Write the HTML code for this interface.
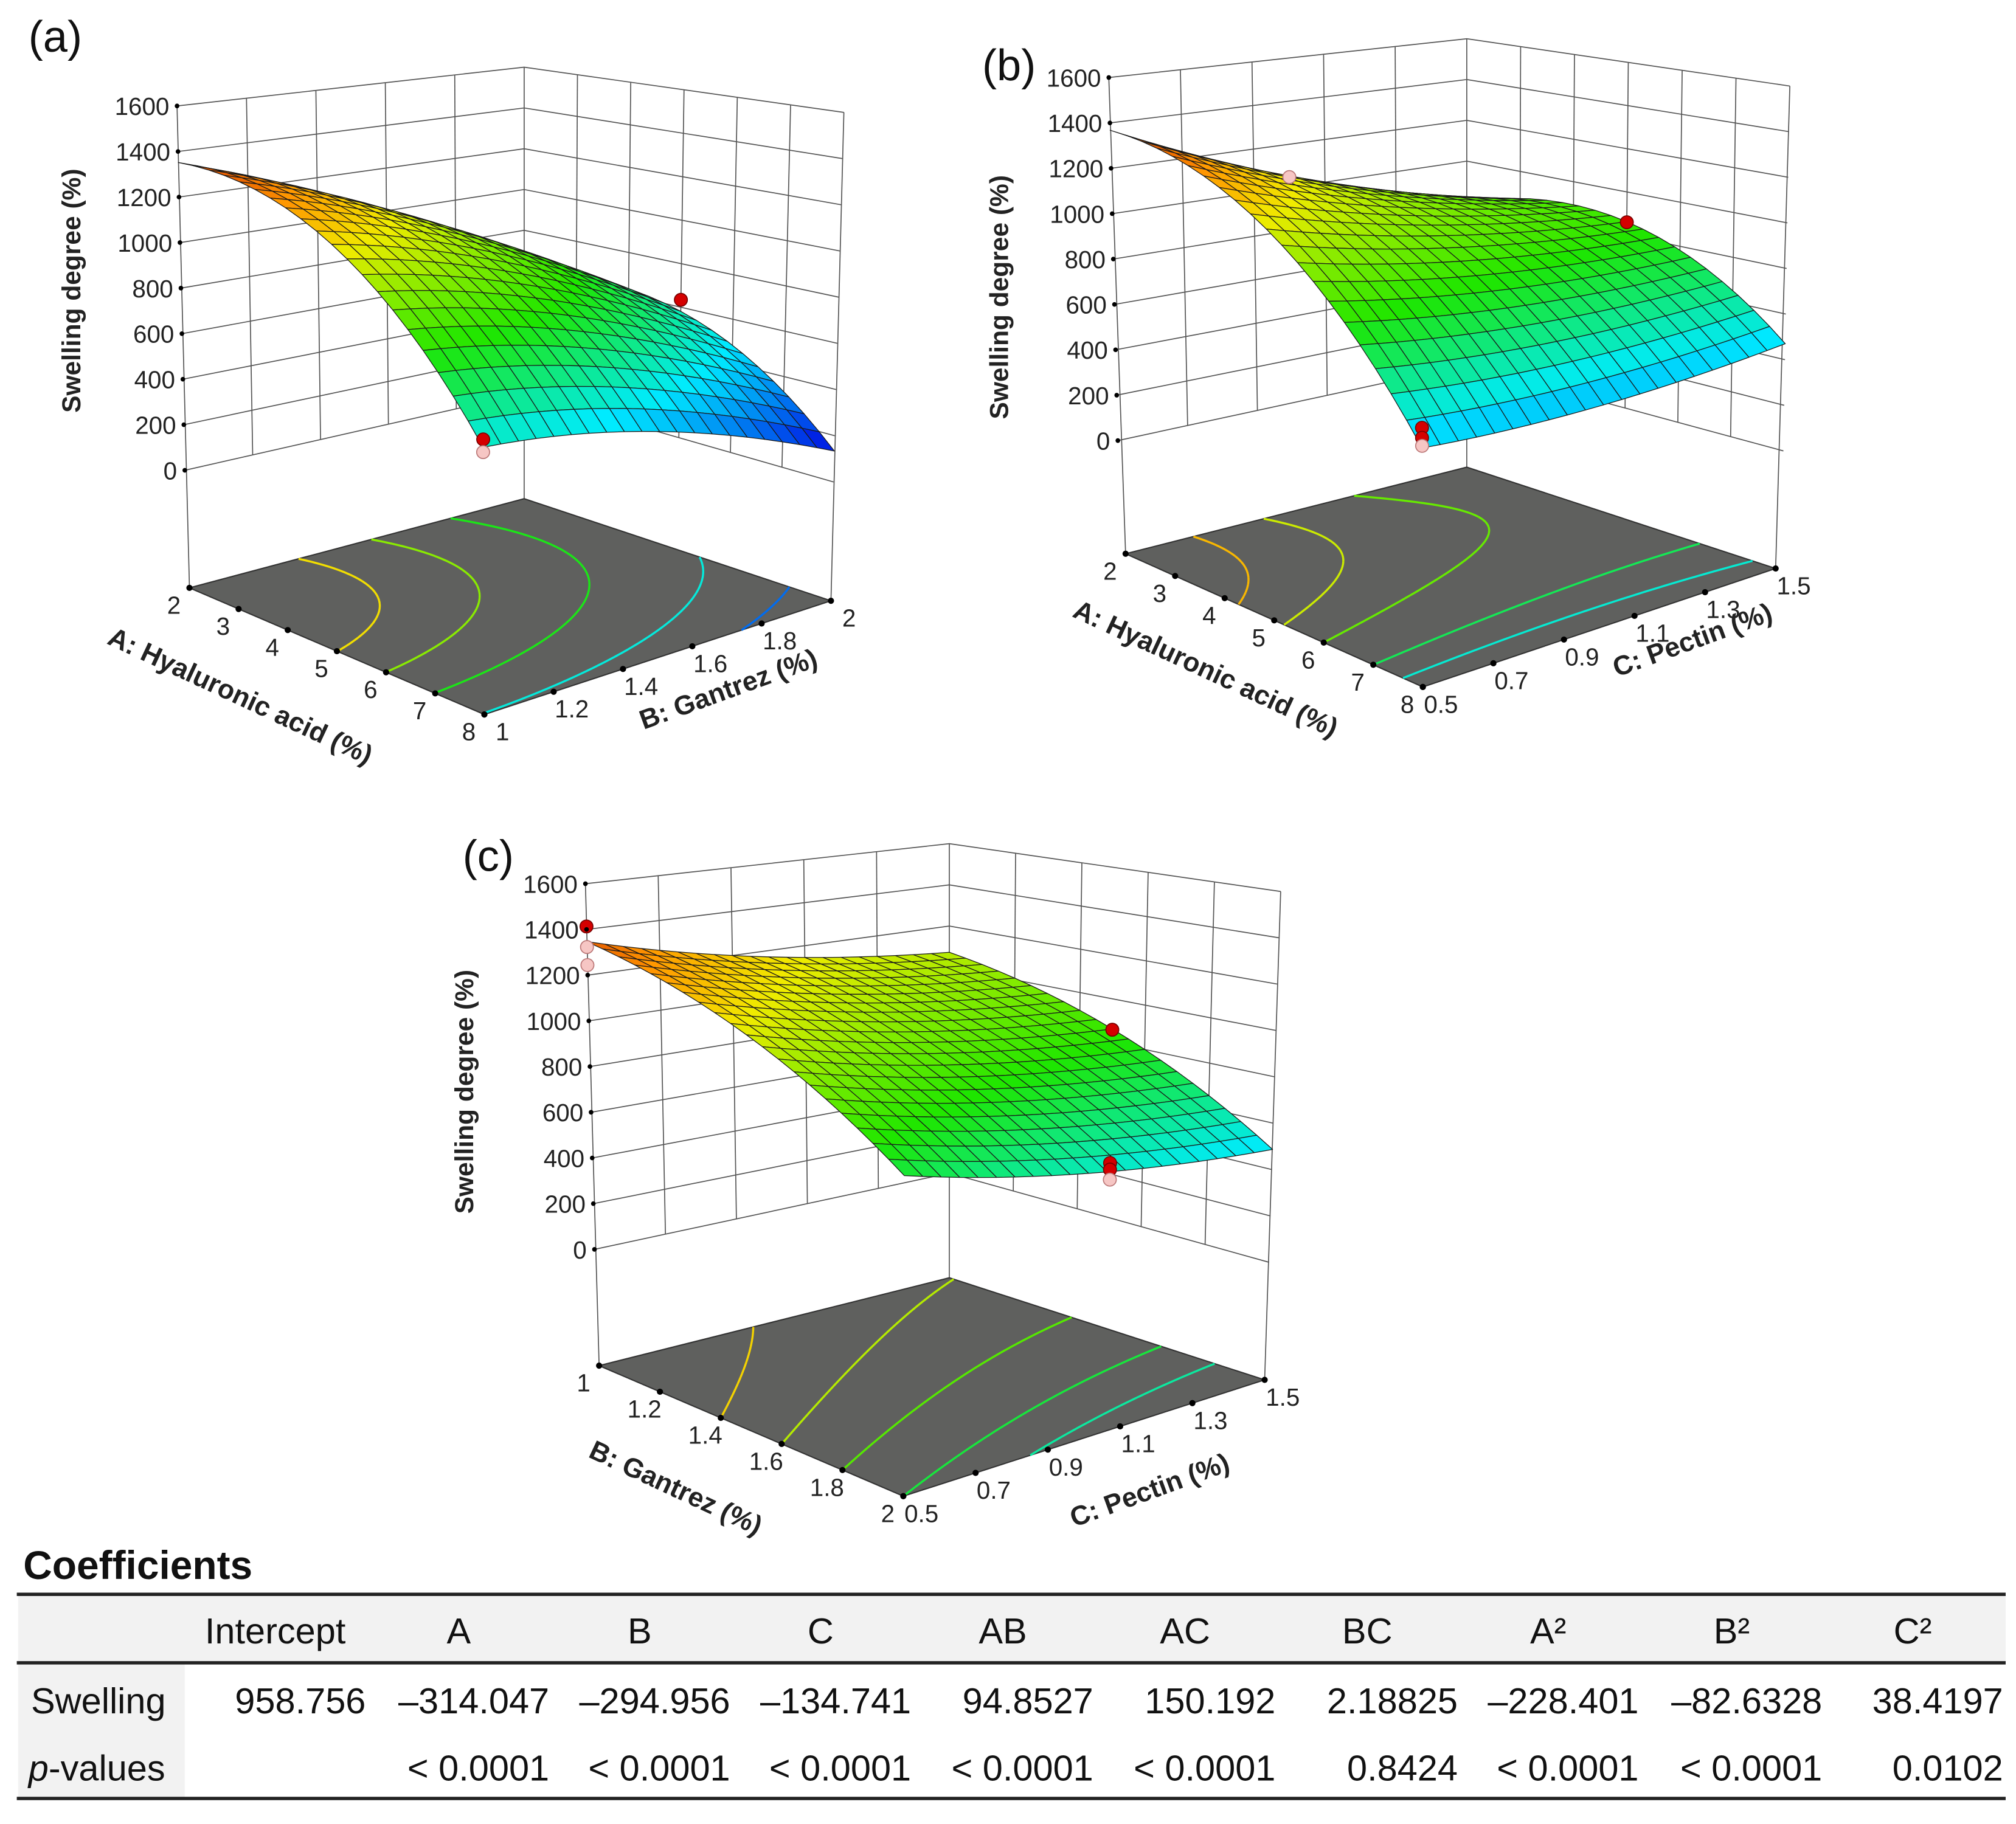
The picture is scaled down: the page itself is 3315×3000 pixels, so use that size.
<!DOCTYPE html>
<html><head><meta charset="utf-8"><style>
html,body{margin:0;padding:0;background:#fff;}
svg{display:block;font-family:"Liberation Sans",Arial,sans-serif;}
</style></head><body>
<svg id="fig" width="3315" height="3000" viewBox="0 0 1560 1411.76" xmlns="http://www.w3.org/2000/svg">
<rect x="0" y="0" width="1560" height="1412" fill="#fff"/>
</svg>
<script>
// ===== Data =====
const coefNames = ["Intercept","A","B","C","AB","AC","BC","A²","B²","C²"];
const swellingCoef = [958.756,-314.047,-294.956,-134.741,94.8527,150.192,2.18825,-228.401,-82.6328,38.4197];
const pValueLabels = ["","< 0.0001","< 0.0001","< 0.0001","< 0.0001","< 0.0001","0.8424","< 0.0001","< 0.0001","0.0102"];
const zTicks = [0,200,400,600,800,1000,1200,1400,1600];
const ticksA = [2,3,4,5,6,7,8];
const ticksB = [1,1.2,1.4,1.6,1.8,2];
const ticksC = [0.5,0.7,0.9,1.1,1.3,1.5];
const contourLevelsA = [300,545,800,1010,1170];
const contourLevelsB = [558,720,952,1100,1230];
const contourLevelsC = [624,752,924,1069,1188];
const pointsA_p = [1,1,0.5];
const pointsA_q = [0,0,1];
const pointsA_z = [565,515,634];
const pointsA_kind = ["red","pink","red"];
const pointsB_p = [1,1,1,0,0.5];
const pointsB_q = [0,0,0,0.5,1];
const pointsB_z = [520,480,448,1048,860];
const pointsB_kind = ["red","red","pink","pink","red"];
const pointsC_p = [0,0,0,0.5,0.5,0.5,0.5];
const pointsC_q = [0,0,0,1,1,1,1];
const pointsC_z = [1413,1323,1244,859,250,220,174];
const pointsC_kind = ["red","pink","pink","red","red","red","pink"];

// ===== helpers =====
const NS = "http://www.w3.org/2000/svg";
const svg = document.getElementById('fig');
function mk(tag, attrs, parent){
  const e = document.createElementNS(NS, tag);
  for (const k in attrs) e.setAttribute(k, attrs[k]);
  (parent||svg).appendChild(e);
  return e;
}
function model(a,b,c){
  const k = swellingCoef;
  return k[0]+k[1]*a+k[2]*b+k[3]*c+k[4]*a*b+k[5]*a*c+k[6]*b*c+k[7]*a*a+k[8]*b*b+k[9]*c*c;
}
const cstops = [[130,[0,0,225]],[500,[0,235,255]],[830,[30,230,0]],[1000,[130,235,0]],[1150,[240,235,0]],[1280,[255,150,0]],[1380,[215,55,0]]];
function cmap(z){
  if (z<=cstops[0][0]) return 'rgb('+cstops[0][1].join(',')+')';
  for (let i=1;i<cstops.length;i++){
    if (z<=cstops[i][0]){
      const t=(z-cstops[i-1][0])/(cstops[i][0]-cstops[i-1][0]);
      const a=cstops[i-1][1], b=cstops[i][1];
      return 'rgb('+[0,1,2].map(j=>Math.round(a[j]+(b[j]-a[j])*t)).join(',')+')';
    }
  }
  return 'rgb('+cstops[cstops.length-1][1].join(',')+')';
}
function fmtCoef(v){ return v<0 ? '\u2013'+String(Math.abs(v)) : String(v); }

// ===== plot configs (geometry) =====
const plots = [
 {id:'a', label:'(a)', labelXY:[22,40],
  L:[146.6,455], F:[374.8,553], R:[643,465], B:[405.6,386],
  oL0:[-3.6,-91], oL1:[-9.6,-373], oB0:[0,-81.5], oB1:[0,-334], oR0:[2,-92], oR1:[10,-378],
  ax1:ticksA, ax2:ticksB, coded:(p,q)=>model(2*p-1,2*q-1,0),
  levels:contourLevelsA, pp:pointsA_p, pq:pointsA_q, pz:pointsA_z, pk:pointsA_kind,
  t1:'A: Hyaluronic acid (%)', t1XY:[183,545], t2:'B: Gantrez (%)', t2XY:[566,540], ytXY:[62,225]},
 {id:'b', label:'(b)', labelXY:[760,62],
  L:[871,428.6], F:[1101,531.7], R:[1374,440], B:[1135,361.6],
  oL0:[-6,-87.6], oL1:[-13,-368.6], oB0:[0,-79], oB1:[0,-331.6], oR0:[6,-91], oR1:[11,-373.4],
  ax1:ticksA, ax2:ticksC, coded:(p,q)=>model(2*p-1,0,2*q-1),
  levels:contourLevelsB, pp:pointsB_p, pq:pointsB_q, pz:pointsB_z, pk:pointsB_kind,
  t1:'A: Hyaluronic acid (%)', t1XY:[930,524], t2:'C: Pectin (%)', t2XY:[1312,502], ytXY:[780,230]},
 {id:'c', label:'(c)', labelXY:[358,674],
  L:[463.6,1057], F:[699,1158], R:[978.6,1068], B:[734.6,989],
  oL0:[-3.6,-90], oL1:[-10.6,-373], oB0:[0,-81], oB1:[0,-336], oR0:[3.4,-91], oR1:[12.4,-378],
  ax1:ticksB, ax2:ticksC, coded:(p,q)=>model(0,2*p-1,2*q-1),
  levels:contourLevelsC, pp:pointsC_p, pq:pointsC_q, pz:pointsC_z, pk:pointsC_kind,
  t1:'B: Gantrez (%)', t2:'C: Pectin (%)', t1XY:[520,1158], t2XY:[892,1160], ytXY:[366,845]}
];

function bil(P,key,p,q){
  const L=P[key+'L'], B=P[key+'B'], R=P[key+'R'], F=P[key+'F'];
  return [0,1].map(i=>L[i]*(1-p)*(1-q)+F[i]*p*(1-q)+R[i]*p*q+B[i]*(1-p)*q);
}
function setup(P){
  P.fL=P.L; P.fF=P.F; P.fR=P.R; P.fB=P.B;
  P.z0L=P.oL0; P.z0B=P.oB0; P.z0R=P.oR0;
  P.z0F=[P.oL0[0]+P.oR0[0]-P.oB0[0], P.oL0[1]+P.oR0[1]-P.oB0[1]];
  P.z1L=P.oL1; P.z1B=P.oB1; P.z1R=P.oR1;
  P.z1F=[P.oL1[0]+P.oR1[0]-P.oB1[0], P.oL1[1]+P.oR1[1]-P.oB1[1]];
}
function floorPt(P,p,q){ return bil(P,'f',p,q); }
function proj(P,p,q,z){
  const f=bil(P,'f',p,q), a=bil(P,'z0',p,q), b=bil(P,'z1',p,q), t=z/1600;
  return [f[0]+a[0]+(b[0]-a[0])*t, f[1]+a[1]+(b[1]-a[1])*t];
}
const pt = a => a[0].toFixed(2)+','+a[1].toFixed(2);

plots.forEach(P=>{
  setup(P);
  const g = mk('g',{});
  
  
  const walls = mk('g',{stroke:'#555','stroke-width':0.8,fill:'none'},g);
  
  
  zTicks.forEach(z=>{
    mk('polyline',{points:[proj(P,0,0,z),proj(P,0,1,z),proj(P,1,1,z)].map(pt).join(' ')},walls);
  });
  const n2=P.ax2.length-1, n1=P.ax1.length-1;
  for(let i=1;i<n2;i++){ const q=i/n2; mk('line',{x1:proj(P,0,q,0)[0],y1:proj(P,0,q,0)[1],x2:proj(P,0,q,1600)[0],y2:proj(P,0,q,1600)[1]},walls); }
  for(let i=1;i<n1;i++){ const p=i/n1; mk('line',{x1:proj(P,p,1,0)[0],y1:proj(P,p,1,0)[1],x2:proj(P,p,1,1600)[0],y2:proj(P,p,1,1600)[1]},walls); }
  [[0,0],[0,1],[1,1]].forEach(([p,q])=>{
    const f=floorPt(P,p,q), t=proj(P,p,q,1600);
    mk('line',{x1:f[0],y1:f[1],x2:t[0],y2:t[1]},walls);
  });
  const floor = mk('polygon',{points:[P.fL,P.fF,P.fR,P.fB].map(pt).join(' '),fill:'#5f605e',stroke:'#333','stroke-width':1},g);
  
  
  const N=60, grid=[];
  for(let i=0;i<=N;i++){grid.push([]);for(let j=0;j<=N;j++)grid[i].push(P.coded(i/N,j/N));}
  P.levels.forEach(lv=>{
    let d='';
    for(let i=0;i<N;i++)for(let j=0;j<N;j++){
      const c=[[i,j],[i+1,j],[i+1,j+1],[i,j+1]];
      const v=c.map(([a,b])=>grid[a][b]);
      const cr=[];
      for(let k=0;k<4;k++){
        const a=v[k], b=v[(k+1)%4];
        if((a-lv)*(b-lv)<0){
          const t=(lv-a)/(b-a), c1=c[k], c2=c[(k+1)%4];
          cr.push([(c1[0]+(c2[0]-c1[0])*t)/N,(c1[1]+(c2[1]-c1[1])*t)/N]);
        }
      }
      for(let k=0;k+1<cr.length;k+=2){
        d+='M'+pt(floorPt(P,cr[k][0],cr[k][1]))+'L'+pt(floorPt(P,cr[k+1][0],cr[k+1][1]));
      }
    }
    const path=mk('path',{d:d,stroke:cmap(lv),'stroke-width':1.6,fill:'none'},g);
    
    
  });
  const sg = mk('g',{stroke:'#1a1a1a','stroke-width':0.6,'stroke-linejoin':'round'},g);
  
  
  const M=20, quads=[];
  for(let i=0;i<M;i++)for(let j=0;j<M;j++) quads.push([i,j]);
  quads.sort((a,b)=>(a[0]-a[1])-(b[0]-b[1]));
  quads.forEach(([i,j])=>{
    const cs=[[i,j],[i+1,j],[i+1,j+1],[i,j+1]].map(([a,b])=>[a/M,b/M]);
    const zs=cs.map(([p,q])=>P.coded(p,q));
    const zm=zs.reduce((s,x)=>s+x,0)/4;
    mk('polygon',{points:cs.map(([p,q],k)=>pt(proj(P,p,q,zs[k]))).join(' '),fill:cmap(zm)},sg);
  });
  P.pp.forEach((p,k)=>{
    const xy=proj(P,p,P.pq[k],P.pz[k]);
    const c=mk('circle',{cx:xy[0],cy:xy[1],r:5,fill:P.pk[k]==='red'?'#d40000':'#f6c6c4',stroke:P.pk[k]==='red'?'#700':'#b77','stroke-width':0.8},g);
    
    
  });
  zTicks.forEach(z=>{
    const xy=proj(P,0,0,z);
    mk('circle',{cx:xy[0],cy:xy[1],r:1.8,fill:'#000'},g);
    const t=mk('text',{x:xy[0]-6,y:xy[1]+7,'font-size':19,'text-anchor':'end',fill:'#222'},g);
    t.textContent=String(z);
    
    
  });
  P.ax1.forEach((v,i)=>{
    const xy=floorPt(P,i/(P.ax1.length-1),0);
    mk('circle',{cx:xy[0],cy:xy[1],r:2.4,fill:'#000'},g);
    const t=mk('text',{x:xy[0]-12,y:xy[1]+20,'font-size':19,'text-anchor':'middle',fill:'#222'},g);
    t.textContent=String(v);
    
    
  });
  P.ax2.forEach((v,i)=>{
    const xy=floorPt(P,1,i/(P.ax2.length-1));
    mk('circle',{cx:xy[0],cy:xy[1],r:2.4,fill:'#000'},g);
    const t=mk('text',{x:xy[0]+14,y:xy[1]+20,'font-size':19,'text-anchor':'middle',fill:'#222'},g);
    t.textContent=String(v);
    
    
  });
  const t1=mk('text',{x:P.t1XY[0],y:P.t1XY[1],'font-size':21,'font-weight':'bold','text-anchor':'middle',fill:'#222',transform:'rotate(25 '+P.t1XY[0]+' '+P.t1XY[1]+')'},g);
  t1.textContent=P.t1;
  
  
  const t2=mk('text',{x:P.t2XY[0],y:P.t2XY[1],'font-size':21,'font-weight':'bold','text-anchor':'middle',fill:'#222',transform:'rotate(-20 '+P.t2XY[0]+' '+P.t2XY[1]+')'},g);
  t2.textContent=P.t2;
  
  
  const yt=mk('text',{x:P.ytXY[0],y:P.ytXY[1],'font-size':20,'font-weight':'bold','text-anchor':'middle',fill:'#222',transform:'rotate(-90 '+P.ytXY[0]+' '+P.ytXY[1]+')'},g);
  yt.textContent='Swelling degree (%)';
  
  
  const pl=mk('text',{x:P.labelXY[0],y:P.labelXY[1],'font-size':34,fill:'#111'},g);
  pl.textContent=P.label;
  
  
});

// ===== coefficient table =====
const tg = mk('g',{});


const ttl=mk('text',{x:18,y:1222,'font-size':31,'font-weight':'bold',fill:'#111'},tg);
ttl.textContent='Coefficients';


mk('rect',{x:14,y:1235,width:1538,height:51,fill:'#f2f2f2'},tg);
mk('rect',{x:14,y:1288,width:129,height:103,fill:'#f2f2f2'},tg);
[1234,1287,1392].forEach(y=>mk('line',{x1:13,x2:1552,y1:y,y2:y,stroke:'#222','stroke-width':2.6},tg));
const colRight=[283,425,565,705,846,987,1128,1268,1410,1550];
coefNames.forEach((n,i)=>{
  const h=mk('text',{x:colRight[i]-70,y:1272,'font-size':28,'text-anchor':'middle',fill:'#111'},tg);
  h.textContent=n;
  
  
  const v=mk('text',{x:colRight[i],y:1326,'font-size':28,'text-anchor':'end',fill:'#111'},tg);
  v.textContent=fmtCoef(swellingCoef[i]);
  
  
  const pv=mk('text',{x:colRight[i],y:1378,'font-size':28,'text-anchor':'end',fill:'#111'},tg);
  pv.textContent=pValueLabels[i];
  
  
});
const r1=mk('text',{x:24,y:1326,'font-size':28,fill:'#111'},tg);
r1.textContent='Swelling';


const r2=mk('text',{x:22,y:1378,'font-size':28,fill:'#111'},tg);
r2.innerHTML='<tspan font-style="italic">p</tspan>-values';


</script>
</body></html>
